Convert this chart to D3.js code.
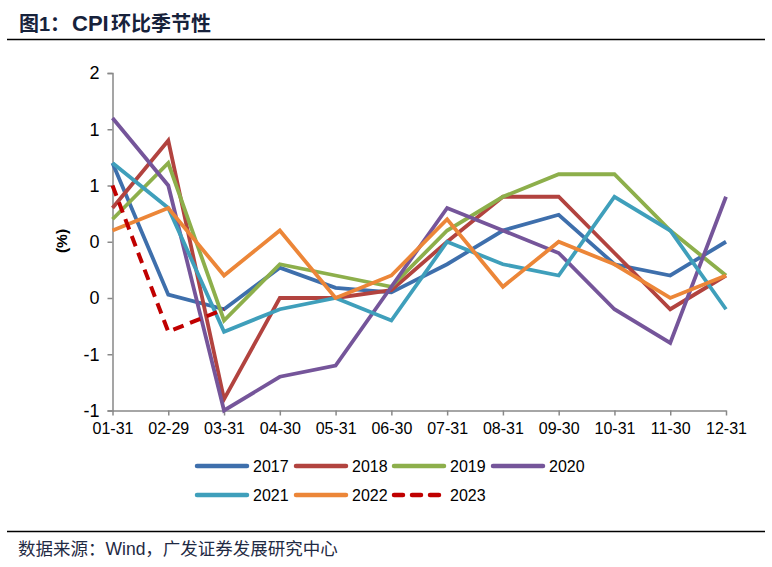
<!DOCTYPE html>
<html><head><meta charset="utf-8">
<script src="https://cdn.jsdelivr.net/npm/d3@7"></script>
<style>
body{margin:0;background:#fff;}
svg{display:block;}
</style></head>
<body>
<svg id="c" width="772" height="567"></svg>
<script>
const categories = ["01-31","02-29","03-31","04-30","05-31","06-30","07-31","08-31","09-30","10-31","11-30","12-31"];
const s2017 = [1.0,-0.17,-0.3,0.07,-0.11,-0.15,0.1,0.4,0.54,0.1,0.0,0.3];
const s2018 = [0.6,1.2,-1.1,-0.2,-0.2,-0.13,0.3,0.7,0.7,0.2,-0.3,0.0];
const s2019 = [0.5,1.0,-0.4,0.1,0.0,-0.1,0.4,0.7,0.9,0.9,0.4,0.0];
const s2020 = [1.4,0.8,-1.2,-0.9,-0.8,-0.1,0.6,0.4,0.2,-0.3,-0.6,0.7];
const s2021 = [1.0,0.6,-0.5,-0.3,-0.2,-0.4,0.3,0.1,0.0,0.7,0.4,-0.3];
const s2022 = [0.4,0.6,0.0,0.4,-0.2,0.0,0.5,-0.1,0.3,0.1,-0.2,0.0];
const s2023 = [0.8,-0.5,-0.3];
const yTicks = [-1.2,-0.7,-0.2,0.3,0.8,1.3,1.8];
const yTickLabels = ["-1","-1","0","0","1","1","2"];
const seriesNames = ["2017","2018","2019","2020","2021","2022","2023"];

const colors = ["#3E6FAC","#B2433F","#8DAF4B","#75559A","#3F9FBB","#EC8638","#C00000"];
const seriesData = [s2017,s2018,s2019,s2020,s2021,s2022,s2023];

const svg = d3.select("#c");
const latin = "'Liberation Sans', Arial, 'Noto Sans CJK SC', sans-serif";

// Title
const title = svg.append("text").attr("y",31)
  .attr("font-family",latin).attr("font-weight","bold").attr("font-size",20)
  .attr("fill","#17223B");
title.append("tspan").attr("x",19).text("图1：");
title.append("tspan").attr("x",72).attr("font-size",22).text("CPI");
title.append("tspan").attr("x",111).text("环比季节性");

svg.append("line").attr("x1",7).attr("x2",765).attr("y1",39.5).attr("y2",39.5)
  .attr("stroke","#000").attr("stroke-width",1.3);
svg.append("line").attr("x1",7).attr("x2",765).attr("y1",531.5).attr("y2",531.5)
  .attr("stroke","#000").attr("stroke-width",1.3);
svg.append("text").attr("x",18).attr("y",554.5)
  .attr("font-family",latin).attr("font-size",17.5)
  .attr("fill","#1F2A44").text("数据来源：Wind，广发证券发展研究中心");

const x = d3.scalePoint().domain(categories).range([112.5,726]);
const y = d3.scaleLinear().domain([-1.2,1.8]).range([410.5,73]);

// Y axis
const yAxis = d3.axisLeft(y).tickValues(yTicks).tickSize(5).tickPadding(8)
  .tickFormat((d,i)=>yTickLabels[i]);
const gy = svg.append("g").attr("transform","translate(112.5,0)").call(yAxis);
gy.select(".domain").attr("stroke","#888").attr("stroke-width",1.5);
gy.selectAll(".tick line").attr("stroke","#888").attr("stroke-width",1.5);
gy.selectAll(".tick text").attr("font-family",latin).attr("font-size",18).attr("fill","#000");

// X axis
const xAxis = d3.axisBottom(x).tickSize(5).tickPadding(7).tickSizeOuter(0);
const gx = svg.append("g").attr("transform","translate(0,410.5)").call(xAxis);
gx.select(".domain").attr("stroke","#888").attr("stroke-width",1.5);
gx.selectAll(".tick line").attr("stroke","#888").attr("stroke-width",1.5);
gx.selectAll(".tick text").attr("font-family",latin).attr("font-size",16).attr("fill","#000");

// y label
svg.append("text").attr("transform","translate(67,241) rotate(-90)")
  .attr("text-anchor","middle").attr("font-family",latin).attr("font-weight","bold")
  .attr("font-size",15.5).text("(%)");

const line = d3.line().x((d,i)=>x(categories[i])).y(d=>y(d));
seriesData.forEach((s,k)=>{
  svg.append("path").datum(s).attr("d",line)
    .attr("fill","none").attr("stroke",colors[k])
    .attr("stroke-width",k===6?4:3.8)
    .attr("stroke-linejoin","miter")
    .attr("stroke-dasharray",k===6?"11,7":null);
});

// Legend
const legPos = [[195,466],[294,466],[392,466],[491,466],[195,495],[294,495],[392,495]];
seriesNames.forEach((n,k)=>{
  const [lx,ly] = legPos[k];
  svg.append("line").attr("x1",lx+2).attr("x2",lx+52).attr("y1",ly).attr("y2",ly)
    .attr("stroke",colors[k]).attr("stroke-width",4.5).attr("stroke-linecap","round")
    .attr("stroke-dasharray",k===6?"9,9":null);
  svg.append("text").attr("x",lx+58).attr("y",ly+6)
    .attr("font-family",latin).attr("font-size",16).attr("fill","#000").text(n);
});
</script>
</body></html>
